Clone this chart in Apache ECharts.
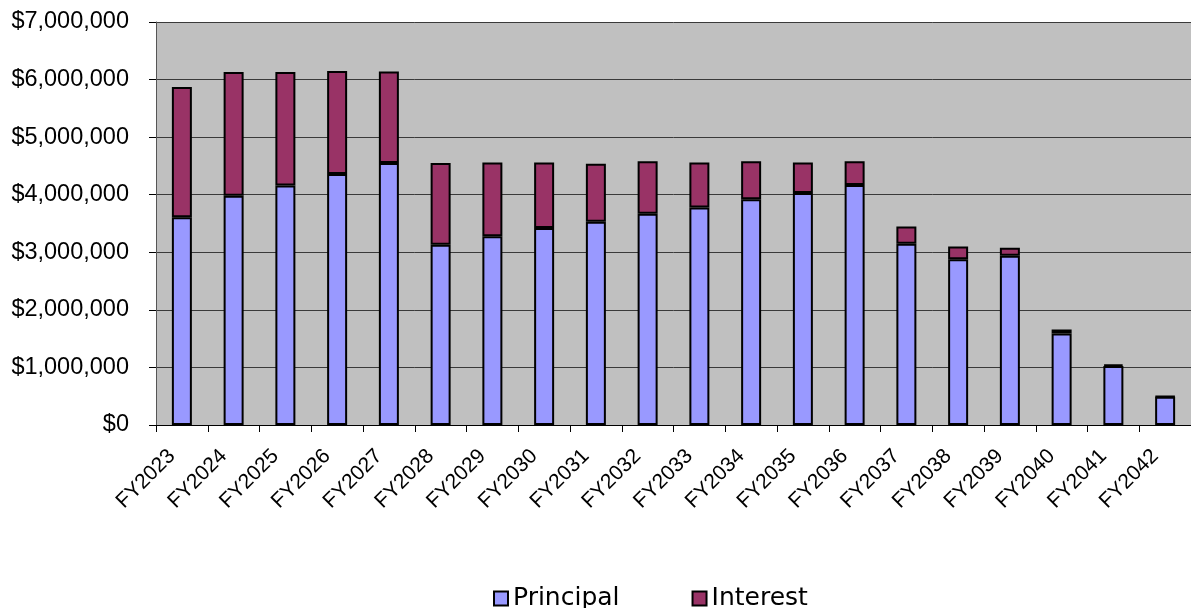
<!DOCTYPE html>
<html>
<head>
<meta charset="utf-8">
<script src="https://cdn.jsdelivr.net/npm/echarts@6/dist/echarts.min.js"></script>
<style>
html,body{margin:0;padding:0;background:#fff;}
#chart{width:1191px;height:608px;}
</style>
</head>
<body>
<div id="chart"></div>
<script>
const categories = ['FY2023','FY2024','FY2025','FY2026','FY2027','FY2028','FY2029','FY2030','FY2031','FY2032','FY2033','FY2034','FY2035','FY2036','FY2037','FY2038','FY2039','FY2040','FY2041','FY2042'];
const principal = [3610000,3980000,4160000,4360000,4550000,3130000,3280000,3420000,3530000,3670000,3780000,3920000,4030000,4170000,3150000,2880000,2940000,1590000,1025000,490000];
const interest  = [2260000,2150000,1970000,1790000,1590000,1420000,1280000,1140000,1010000,910000,780000,660000,530000,410000,300000,220000,140000,70000,25000,8000];
const yMin = 0, yMax = 7000000, yStep = 1000000;

const chart = echarts.init(document.getElementById('chart'), null, {renderer:'canvas'});
chart.setOption({
  animation: false,
  backgroundColor: '#ffffff',
  grid: {left:156, right:0, top:22, bottom:183, show:true, backgroundColor:'#C0C0C0', borderWidth:0},
  legend: {
    left: 493, top: 586, padding: 0, itemWidth: 14, itemHeight: 14, itemGap: 72, icon: 'rect',
    textStyle: {fontFamily:'DejaVu Sans', fontSize:25, color:'#000', padding:[0,0,0,0]},
    data: ['Principal','Interest']
  },
  xAxis: {
    type: 'category', data: categories, boundaryGap: true,
    axisLine: {show:true, lineStyle:{color:'#000', width:1}},
    axisTick: {show:true, alignWithLabel:false, length:7, lineStyle:{color:'#000'}},
    axisLabel: {rotate:45, margin:18, padding:[0,14,0,0], fontFamily:'Liberation Sans', fontSize:21, color:'#000', interval:0},
    splitLine: {show:false}
  },
  yAxis: {
    type: 'value', min: yMin, max: yMax, interval: yStep,
    axisLine: {show:true, lineStyle:{color:'#555', width:1}},
    axisTick: {show:true, length:7, lineStyle:{color:'#000'}},
    axisLabel: {margin:27, fontFamily:'Liberation Sans', fontSize:23.5, color:'#000',
      formatter: v => '$' + v.toLocaleString('en-US')},
    splitLine: {show:true, lineStyle:{color:'#3a3a3a', width:1}}
  },
  series: [
    {name:'Principal', type:'bar', stack:'total', data: principal, barWidth:20,
     itemStyle:{color:'#9999FF', borderColor:'#000', borderWidth:2}},
    {name:'Interest', type:'bar', stack:'total', data: interest, barWidth:20,
     itemStyle:{color:'#993366', borderColor:'#000', borderWidth:2}}
  ]
});
</script>
</body>
</html>
